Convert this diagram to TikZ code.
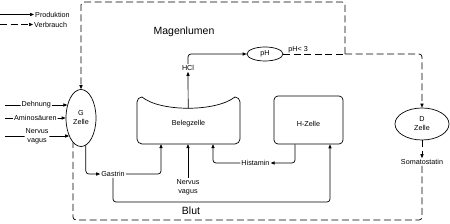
\documentclass[tikz,border=0pt]{standalone}
\usepackage{fontspec}
\setmainfont{Liberation Sans}
\usetikzlibrary{arrows.meta,shapes.geometric}
\begin{document}
\begin{tikzpicture}[x=1pt,y=-1pt,
	prod/.style={line width=0.7pt, rounded corners=3pt, -{Triangle[length=4pt,width=3.2pt]}},
	verb/.style={prod, dash pattern=on 7pt off 3.5pt},
	txt/.style={font=\fontsize{7.2}{9}\selectfont, inner sep=1pt, align=center},
	bigtxt/.style={font=\fontsize{10.5}{12}\selectfont},
	zelle/.style={draw, ellipse, line width=0.7pt, inner sep=0pt, txt}]
	\useasboundingbox (0,0) rectangle (450,224);
	
	% Legend
	\coordinate (lp) at (0,14.5);
	\node[txt, anchor=west] (lprod) at (34,14.5) {Produktion};
	\draw[prod] (lp) -- (lprod);
	\coordinate (lv) at (0,24.5);
	\node[txt, anchor=west] (lverb) at (33,24.5) {Verbrauch};
	\draw[verb] (lv) -- (lverb);
	
	% Regions
	\node[bigtxt] (lumen) at (184,32) {Magenlumen};
	\node[bigtxt] (blut) at (191,211) {Blut};
	
	% Cells
	\node[zelle, minimum width=30, minimum height=57] (gzelle) at (81,118) {G\\Zelle};
	\node[zelle, minimum width=54, minimum height=32] (dzelle) at (422,124) {D\\Zelle};
	\node[zelle, minimum width=36, minimum height=14] (ph) at (265,54) {pH};
	\node[draw, rounded corners=4pt, line width=0.7pt, minimum width=69, minimum height=48] (hzelle) at (308.5,120) {};
	\node[txt] (hztext) at (308.5,124) {H-Zelle};
	
	% Belegzelle (concave top)
	\node[minimum width=103, minimum height=47, inner sep=0pt] (beleg) at (188.5,120.5) {};
	\draw[line width=0.7pt] (142,97) .. controls (160,112) and (216,112) .. (235,97)
		arc[start angle=-90, end angle=0, radius=5] -- (240,139)
		arc[start angle=0, end angle=90, radius=5] -- (142,144)
		arc[start angle=90, end angle=180, radius=5] -- (137,102)
		arc[start angle=180, end angle=270, radius=5] -- cycle;
	\node[txt] (belegtext) at (188.5,124) {Belegzelle};
	
	% Inputs to G cell
	\coordinate (dehn) at (5,105);
	\draw[prod] (dehn) -- (dehn -| gzelle.136) node[txt, midway, fill=white] {Dehnung};
	\coordinate (amino) at (5,118);
	\draw[prod] (amino) -- (gzelle.west) node[txt, midway, fill=white] {Aminosäuren};
	\coordinate (nerv) at (5,136);
	\draw[prod] (nerv) -- (nerv -| gzelle.237) node[txt, midway, fill=white] {Nervus\\vagus};
	
	% Gastrin, Nervus vagus, Histamin
	\node[txt] (gastrin) at (113,174) {Gastrin};
	\draw[prod] (gzelle.280) |- (gastrin.west);
	\draw[prod] (gastrin.east) -| (161,0 |- beleg.south);
	\coordinate (gb) at (330,202);
	\draw[prod] (gastrin.south) |- (gb) -- (gb |- hzelle.south);
	\node[txt] (nvagus) at (188,187) {Nervus\\vagus};
	\draw[prod] (nvagus.north) -- (nvagus.north |- beleg.south);
	\node[txt] (histamin) at (255.5,163) {Histamin};
	\draw[prod] (295,0 |- hzelle.south) |- (histamin.east);
	\draw[prod] (histamin.west) -| (213,0 |- beleg.south);
	
	% HCl and pH
	\coordinate (belegtop) at (188.2,108.2);
	\node[txt] (hcl) at (188,68) {HCl};
	\draw[prod] (belegtop) -- (hcl.south);
	\draw[prod] (hcl.north) |- (ph.west);
	
	% Feedback
	\coordinate (split) at (345,54);
	\draw[verb,-] (ph.east) -- (split) node[txt, pos=0.24, above] {pH< 3};
	\draw[verb] (split) -| (dzelle.north);
	\draw[verb] (split) -- (345,2) -| (gzelle.north);
	\node[txt] (somato) at (422,162) {Somatostatin};
	\draw[verb] (dzelle.south) -- (somato.north);
	\coordinate (bl) at (73,220);
	\draw[verb,-] (somato.south) |- (bl) -- (bl |- gzelle.252);
\end{tikzpicture}
\end{document}
